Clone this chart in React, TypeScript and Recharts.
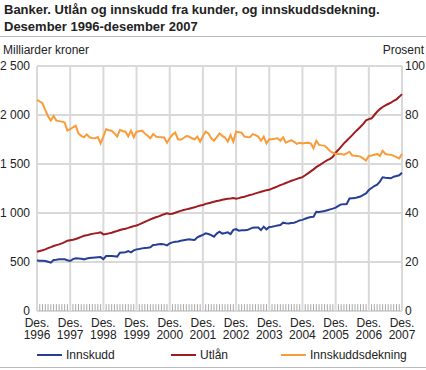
import { LineChart, Line, XAxis, YAxis, CartesianGrid, ReferenceLine } from 'recharts';

// Månedlige verdier, desember 1996 - desember 2007
const innskudd = [
  515, 513, 512, 510, 502, 493, 520, 522, 527, 528, 527, 518,
  510, 530, 538, 535, 532, 527, 536, 540, 544, 546, 548, 550,
  530, 561, 562, 561, 558, 555, 595, 598, 600, 612, 599, 618,
  629, 633, 639, 642, 645, 650, 673, 676, 680, 683, 680, 670,
  690, 700, 707, 710, 717, 722, 727, 731, 728, 724, 752, 765,
  777, 792, 785, 775, 758, 790, 809, 790, 795, 802, 785, 828,
  835, 820, 823, 825, 826, 838, 850, 852, 853, 826, 860, 833,
  858, 860, 866, 872, 877, 901, 895, 893, 898, 901, 912, 925,
  930, 942, 952, 960, 962, 1013, 1010, 1015, 1020, 1028, 1037, 1045,
  1055, 1072, 1088, 1090, 1092, 1148, 1150, 1152, 1160, 1168, 1185, 1200,
  1234, 1255, 1275, 1290, 1320, 1364, 1360, 1358, 1354, 1370, 1377, 1385,
  1411,
];

const utlan = [
  605, 612, 620, 629, 642, 652, 663, 672, 680, 690, 702, 717,
  722, 727, 735, 745, 757, 767, 772, 780, 787, 792, 797, 803,
  782, 785, 792, 799, 808, 816, 826, 834, 840, 848, 857, 866,
  872, 884, 897, 910, 922, 935, 946, 956, 966, 977, 988, 997,
  991, 992, 1003, 1013, 1022, 1030, 1037, 1044, 1051, 1058, 1068, 1076,
  1082, 1093, 1100, 1107, 1115, 1122, 1128, 1135, 1140, 1145, 1148, 1152,
  1145, 1152, 1160, 1166, 1175, 1183, 1190, 1200, 1208, 1216, 1224, 1233,
  1238, 1249, 1260, 1272, 1285, 1295, 1306, 1317, 1329, 1338, 1348, 1358,
  1366, 1385, 1405, 1425, 1445, 1468, 1485, 1503, 1523, 1540, 1552, 1574,
  1615, 1645, 1678, 1711, 1738, 1767, 1795, 1825, 1852, 1880, 1910, 1945,
  1958, 1966, 2000, 2033, 2060, 2082, 2098, 2112, 2125, 2145, 2160, 2185,
  2213,
];

const dekning = [
  86.2, 85.5, 84.8, 82.0, 79.5, 77.7, 79.6, 77.7, 77.5, 77.3, 76.9, 73.6,
  74.2, 75.0, 75.6, 72.5, 71.5, 70.9, 72.1, 70.9, 70.6, 70.5, 71.0, 68.4,
  71.2, 74.2, 73.8, 73.6, 72.5, 71.2, 73.9, 73.5, 73.2, 71.3, 73.6, 70.9,
  73.2, 73.4, 73.6, 72.5, 71.5, 70.5, 72.2, 71.2, 71.0, 70.9, 70.8, 68.7,
  70.5, 72.0, 72.8, 70.1, 69.9, 70.6, 71.4, 71.2, 70.5, 70.1, 71.2, 69.1,
  71.4, 73.2, 72.5, 70.5, 69.5, 71.0, 72.5, 71.5, 70.8, 69.1, 71.8, 69.1,
  73.2, 73.0, 72.8, 71.2, 71.0, 70.9, 72.2, 71.8, 71.2, 69.5, 71.2, 68.4,
  70.1, 70.1, 70.3, 70.5, 69.5, 70.9, 68.7, 69.2, 69.7, 69.0, 68.2, 68.7,
  68.4, 68.6, 68.7, 68.4, 66.4, 69.5, 67.8, 67.6, 67.5, 66.4, 65.2, 64.6,
  64.1, 64.2, 64.1, 63.8, 64.3, 65.0, 63.5, 63.4, 63.3, 63.0, 62.2, 61.4,
  63.3, 63.5, 63.8, 64.1, 63.3, 65.4, 64.1, 63.9, 63.8, 63.3, 62.8, 62.3,
  64.1,
];

const years = ['1996', '1997', '1998', '1999', '2000', '2001', '2002', '2003', '2004', '2005', '2006', '2007'];
const yearTicks = years.map((_, i) => i * 12);
const monthTicks = innskudd.map((_, i) => i).filter((i) => i % 12 !== 0);
const leftTicks = [0, 500, 1000, 1500, 2000, 2500];
const rightTicks = [0, 20, 40, 60, 80, 100];

const data = innskudd.map((v, i) => ({
  m: i,
  innskudd: v,
  utlan: utlan[i],
  dekning: dekning[i],
}));

const font = '"Liberation Sans", Arial, sans-serif';
const textColor = '#222';
const gridColor = '#d9d9d9';
const blue = '#263f95';
const red = '#9e1b20';
const orange = '#f89c3c';

const fmt = (v: number) => String(v).replace(/\B(?=(\d{3})+(?!\d))/g, ' ');

// year label under every December tick
function YearTick({ x, y, payload }: any) {
  return (
    <g>
      <text x={x} y={y + 16} textAnchor="middle" fontSize={12} fill={textColor} fontFamily={font}>Des.</text>
      <text x={x} y={y + 28} textAnchor="middle" fontSize={12} fill={textColor} fontFamily={font}>
        {years[payload.value / 12]}
      </text>
    </g>
  );
}

const legendItems = [
  { label: 'Innskudd', color: blue, x: 37 },
  { label: 'Utlån', color: red, x: 171 },
  { label: 'Innskuddsdekning', color: orange, x: 281 },
];

export default function App() {
  return (
    <div style={{ position: 'absolute', left: 0, top: 0, width: 426, height: 370, fontFamily: font, color: textColor, background: '#fff' }}>
      <div style={{ position: 'absolute', left: 4, top: 1, fontSize: 13, fontWeight: 'bold', lineHeight: '17px', whiteSpace: 'nowrap' }}>
        Banker. Utlån og innskudd fra kunder, og innskuddsdekning.
        <br />
        Desember 1996-desember 2007
      </div>
      <div style={{ position: 'absolute', left: 0, top: 36, width: 426, height: 1, background: '#bbb' }} />
      <div style={{ position: 'absolute', left: 3, top: 43, fontSize: 12, lineHeight: '14px' }}>Milliarder kroner</div>
      <div style={{ position: 'absolute', right: 2, top: 43, fontSize: 12, lineHeight: '14px' }}>Prosent</div>

      <div style={{ position: 'absolute', left: 0, top: 0 }}>
        <LineChart width={426} height={370} data={data} margin={{ top: 66, right: 0, bottom: 27, left: 0 }}>
          <CartesianGrid stroke={gridColor} strokeWidth={2} vertical={false} yAxisId="left" />
          {yearTicks.map((t) => (
            <ReferenceLine key={t} x={t} yAxisId="left" stroke={gridColor} strokeWidth={2} />
          ))}
          {/* short monthly tick marks standing on the base line */}
          {monthTicks.map((t) => (
            <ReferenceLine
              key={'m' + t}
              yAxisId="left"
              segment={[{ x: t, y: 0 }, { x: t, y: 70 }]}
              stroke="#a8a8a8"
              strokeWidth={1}
            />
          ))}
          <XAxis
            dataKey="m"
            type="number"
            domain={[0, 132]}
            ticks={yearTicks}
            interval={0}
            height={32}
            tickSize={0}
            tickMargin={0}
            tickLine={false}
            axisLine={false}
            tick={<YearTick />}
          />
          <YAxis
            yAxisId="left"
            domain={[0, 2500]}
            ticks={leftTicks}
            width={37}
            tickLine={false}
            axisLine={false}
            tickSize={0}
            tickMargin={7}
            tickFormatter={fmt}
            tick={{ fontSize: 12, fill: textColor, fontFamily: font }}
          />
          <YAxis
            yAxisId="right"
            orientation="right"
            domain={[0, 100]}
            ticks={rightTicks}
            width={24}
            tickLine={false}
            axisLine={false}
            tickSize={0}
            tickMargin={3}
            tick={{ fontSize: 12, fill: textColor, fontFamily: font, textAnchor: 'start' }}
          />
          <Line yAxisId="left" dataKey="innskudd" stroke={blue} strokeWidth={2} dot={false} isAnimationActive={false} />
          <Line yAxisId="left" dataKey="utlan" stroke={red} strokeWidth={2} dot={false} isAnimationActive={false} />
          <Line yAxisId="right" dataKey="dekning" stroke={orange} strokeWidth={2} dot={false} isAnimationActive={false} />
        </LineChart>
      </div>

      {legendItems.map((it) => (
        <div key={it.label} style={{ position: 'absolute', left: it.x, top: 348, fontSize: 12, lineHeight: '14px', display: 'flex', alignItems: 'center', whiteSpace: 'nowrap' }}>
          <span style={{ display: 'inline-block', width: 25, height: 2, background: it.color, marginRight: 4 }} />
          {it.label}
        </div>
      ))}
      <div style={{ position: 'absolute', left: 0, top: 367, width: 426, height: 1, background: '#bbb' }} />
    </div>
  );
}
